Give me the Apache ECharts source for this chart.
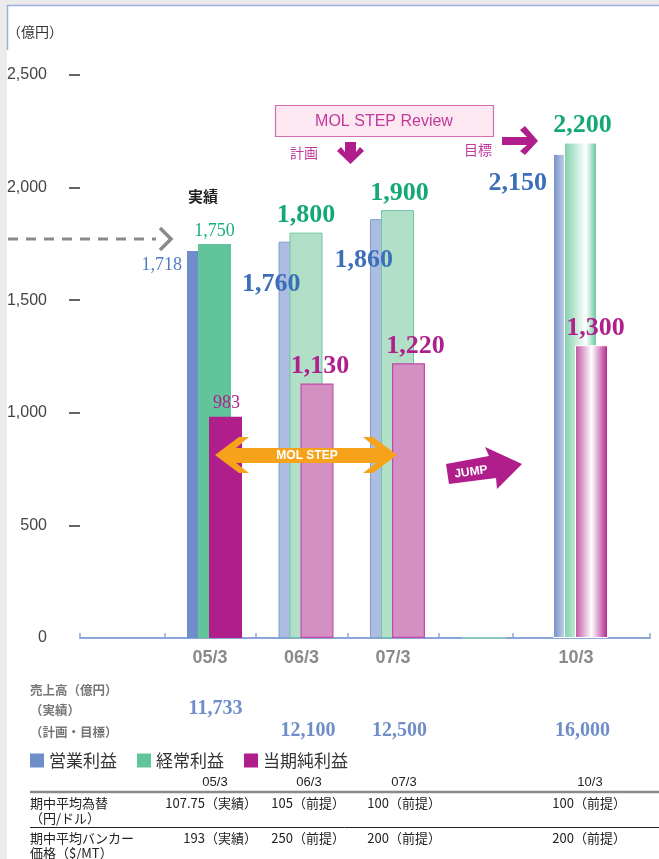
<!DOCTYPE html>
<html><head><meta charset="utf-8">
<script src="https://cdn.jsdelivr.net/npm/echarts@6.0.0/dist/echarts.min.js"></script>
<style>html,body{margin:0;padding:0;background:#fff}#c{width:659px;height:859px}</style>
</head><body><div id="c"></div>
<script>
// ---------- data ----------
const categories = ['05/3', '06/3', '07/3', '', '10/3'];
const periodType = ['actual', 'plan', 'plan', '', 'target'];
const operatingProfit = [1718, 1760, 1860, null, 2150];
const ordinaryProfit = [1750, 1800, 1900, null, 2200];
const netProfit = [983, 1130, 1220, null, 1300];
const salesActual = [11733, null, null, null, null];
const salesPlan = [null, 12100, 12500, null, 16000];
const seriesNames = ['営業利益', '経常利益', '当期純利益'];
const yMax = 2500, yStep = 500;
const tableColumns = ['05/3', '06/3', '07/3', '10/3'];
const fxRate = ['107.75（実績）', '105（前提）', '100（前提）', '100（前提）'];
const bunkerPrice = ['193（実績）', '250（前提）', '200（前提）', '200（前提）'];

// ---------- styles ----------
const SERIF = '"Liberation Serif","DejaVu Serif",serif';
const SANS = '"Liberation Sans","Noto Sans CJK JP",sans-serif';
const JP = '"Noto Sans CJK JP","Liberation Sans",sans-serif';
const MAG = '#b01e8c';
const LG = echarts.graphic.LinearGradient;
const styles = {
  blue: {
    actual: { color: '#6f8dc8' },
    plan: { color: '#adbde2', borderColor: '#7f9dd3', borderWidth: 1 },
    target: { color: new LG(0, 0, 1, 0, [{offset: 0, color: '#6f8dc8'}, {offset: 0.6, color: '#ffffff'}, {offset: 1, color: '#6f8dc8'}]), borderColor: '#fff', borderWidth: 1 },
    labelColor: { actual: '#4f7bc2', plan: '#3b6fb8', target: '#3b6fb8' },
    labelPos: [[-5, 14], [22, 43], [23, 41], null, [-6, 29]]
  },
  green: {
    actual: { color: '#62c49b' },
    plan: { color: '#b2dfc8', borderColor: '#6cc8a0', borderWidth: 1 },
    target: { color: new LG(0, 0, 1, 0, [{offset: 0, color: '#7ccfa9'}, {offset: 0.66, color: '#ffffff'}, {offset: 1, color: '#5ec298'}]), borderColor: '#fff', borderWidth: 1 },
    labelColor: { actual: '#1aae7c', plan: '#14a878', target: '#14a878' },
    labelOffset: [[0, 0], [0, 0], [2, 0], null, [2, 0]]
  },
  mag: {
    actual: { color: MAG },
    plan: { color: '#d490c2', borderColor: '#c24aa8', borderWidth: 1.2 },
    target: { color: new LG(0, 0, 1, 0, [{offset: 0, color: '#c04ea2'}, {offset: 0.5, color: '#ffffff'}, {offset: 1, color: '#b01e8c'}]), borderColor: '#fff', borderWidth: 1 },
    labelColor: { actual: '#b0208c', plan: '#b0208c', target: '#b0208c' },
    labelOffset: [[1, 0], [3, 0], [7, 0], null, [4, 0]]
  }
};
const fmt = v => Number(v).toLocaleString('en-US');
function labelFont(t) {
  return t === 'actual'
    ? { fontFamily: SERIF, fontSize: 18, fontWeight: 'normal' }
    : { fontFamily: SERIF, fontSize: 26, fontWeight: 'bold' };
}
function buildData(values, key) {
  const s = styles[key];
  return values.map((v, i) => {
    if (v == null) return '-';
    const t = periodType[i];
    const lab = Object.assign({ show: true, color: s.labelColor[t], formatter: p => fmt(p.value) }, labelFont(t));
    if (key === 'blue') {
      Object.assign(lab, { position: s.labelPos[i], align: 'right', verticalAlign: 'middle' });
    } else {
      Object.assign(lab, { position: 'top', distance: 4, offset: s.labelOffset[i] });
    }
    return { value: v, itemStyle: s[t], label: lab };
  });
}

const chart = echarts.init(document.getElementById('c'), null, { renderer: 'canvas' });
const option = {
  backgroundColor: '#ffffff',
  animation: false,
  grid: [
    { left: 168.75, right: 32.75, top: 75, bottom: 221 },
    { left: 80, right: 9, top: 75, bottom: 221 }
  ],
  xAxis: [
    { gridIndex: 0, type: 'category', data: categories, axisLine: { show: false }, axisTick: { show: false },
      axisLabel: { margin: 11, fontSize: 18, fontWeight: 'bold', color: '#8a8a8a', fontFamily: SANS, padding: [0, 9, 0, 0] } },
    { gridIndex: 1, type: 'value', min: 0, max: 570, axisLine: { show: true, lineStyle: { color: '#8aa6d8', width: 2 } },
      axisTick: { show: true, inside: true, length: 5, customValues: [0, 85, 176, 268, 359, 433, 570], lineStyle: { color: '#8aa6d8', width: 1.5 } },
      axisLabel: { show: false }, splitLine: { show: false } }
  ],
  yAxis: [
    { gridIndex: 0, type: 'value', min: 0, max: yMax, interval: yStep, show: false },
    { gridIndex: 1, type: 'value', min: 0, max: yMax, interval: yStep, offset: 6,
      axisLine: { show: false },
      axisTick: { show: true, length: 11, customValues: [500, 1000, 1500, 2000, 2500], lineStyle: { color: '#333', width: 1.5 } },
      axisLabel: { margin: 27, fontSize: 16, color: '#444', fontFamily: SANS, formatter: v => fmt(v) },
      splitLine: { show: false } }
  ],
  legend: {
    left: 25, top: 747, itemWidth: 14, itemHeight: 14, itemGap: 20, icon: 'rect',
    textStyle: { fontSize: 17, color: '#333', fontFamily: JP },
    data: seriesNames
  },
  series: [
    { name: seriesNames[0], type: 'bar', xAxisIndex: 0, yAxisIndex: 0, barWidth: 33, barGap: '-66.67%', itemStyle: { color: '#6f8dc8' }, data: buildData(operatingProfit, 'blue') },
    { name: seriesNames[1], type: 'bar', xAxisIndex: 0, yAxisIndex: 0, barWidth: 33, barGap: '-66.67%', itemStyle: { color: '#62c49b' }, data: buildData(ordinaryProfit, 'green') },
    { name: seriesNames[2], type: 'bar', xAxisIndex: 0, yAxisIndex: 0, barWidth: 33, barGap: '-66.67%', itemStyle: { color: MAG }, data: buildData(netProfit, 'mag') }
  ]
};
chart.setOption(option);

// ---------- decorations & texts ----------
const g = [];
const txt = (x, y, text, st, extra) => g.push(Object.assign({ type: 'text', x: x, y: y, z: 50,
  style: Object.assign({ text: text, fontFamily: JP, fontSize: 13, fill: '#222', verticalAlign: 'middle', align: 'left' }, st) }, extra || {}));
const line = (x1, y1, x2, y2, st, z) => g.push({ type: 'line', z: z || 40, shape: { x1, y1, x2, y2 }, style: Object.assign({ stroke: '#888', lineWidth: 1 }, st) });
const poly = (pts, fill, z) => g.push({ type: 'polygon', z: z || 60, shape: { points: pts }, style: { fill: fill } });

g.push({ type: 'rect', z: 1, shape: { x: 0, y: 0, width: 7, height: 859 }, style: { fill: '#ebebeb' } });
g.push({ type: 'rect', z: 1, shape: { x: 0, y: 0, width: 659, height: 5 }, style: { fill: '#ebebeb' } });
line(7, 5.5, 659, 5.5, { stroke: '#9ab0dc', lineWidth: 1.5 });
line(7.5, 5, 7.5, 50, { stroke: '#9ab0dc', lineWidth: 1.5 });
txt(7, 32, '（億円）', { fontSize: 14, fill: '#333' });

// dashed arrow
line(8, 239, 156, 239, { stroke: '#8a8a8a', lineWidth: 3, lineDash: [10, 8] });
g.push({ type: 'polyline', z: 40, shape: { points: [[160, 228], [171, 239], [160, 250]] }, style: { stroke: '#8a8a8a', lineWidth: 3.5, fill: null } });
txt(188, 196, '実績', { fontSize: 15, fontWeight: 'bold', fill: '#222' });

// MOL STEP Review box
g.push({ type: 'rect', z: 40, shape: { x: 275.5, y: 105.5, width: 218, height: 31 }, style: { fill: '#fde7f1', stroke: '#d36db3', lineWidth: 1.2 } });
txt(384, 122, 'MOL STEP Review', { fontSize: 16, fill: '#c03a9d', fontFamily: SANS, align: 'center' });
txt(290, 153, '計画', { fontSize: 14, fill: '#c03a9d' });
txt(464, 150, '目標', { fontSize: 14, fill: '#c03a9d' });
poly([[345, 142], [356, 142], [356, 152], [360, 147], [364, 151], [350.5, 164], [337, 151], [341, 147], [345, 152]], MAG);
poly([[502, 137], [527, 137], [520, 130], [525, 126], [538, 141], [525, 155], [520, 151], [527, 145], [502, 145]], MAG);

// MOL STEP double arrow
poly([[215, 455], [239, 437], [249, 437], [236, 448], [376, 448], [363, 437], [373, 437], [397, 455], [373, 473], [363, 473], [376, 463], [236, 463], [249, 473], [239, 473]], '#f6a31b', 100);
txt(307, 456, 'MOL STEP', { fontSize: 12, fontWeight: 'bold', fill: '#fff', fontFamily: SANS, align: 'center' }, { z: 101 });

// JUMP arrow
poly([[446, 464], [489, 456], [485, 447], [522, 464], [497, 489], [496, 478], [449, 484]], MAG, 100);
g.push({ type: 'text', z: 101, x: 471, y: 472, rotation: 0.14, style: { text: 'JUMP', fontSize: 12, fontWeight: 'bold', fill: '#fff', fontFamily: SANS, align: 'center', verticalAlign: 'middle' } });

// small dash on axis
line(462, 638, 506, 638, { stroke: '#8cc8bc', lineWidth: 2 }, 45);

// sales
txt(30, 690, '売上高（億円）', { fontSize: 12.5, fontWeight: 'bold', fill: '#777' });
txt(30, 710, '（実績）', { fontSize: 12.5, fontWeight: 'bold', fill: '#777' });
txt(30, 732, '（計画・目標）', { fontSize: 12.5, fontWeight: 'bold', fill: '#777' });
categories.forEach((c, i) => {
  const x = chart.convertToPixel({ xAxisIndex: 0 }, i);
  const sty = { fontSize: 20, fontWeight: 'bold', fill: '#6f8dc8', fontFamily: SERIF, align: 'center' };
  if (salesActual[i] != null) txt(x + 1, 709, fmt(salesActual[i]), sty);
  if (salesPlan[i] != null) txt(x + 2, 731, fmt(salesPlan[i]), sty);
});

// table
const colCenter = [215, 309, 404, 590];
const colRight = [257, 345, 441, 626];
tableColumns.forEach((c, i) => txt(colCenter[i], 782, c, { fontSize: 13, fontFamily: SANS, align: 'center', fill: '#222' }));
line(30, 792, 659, 792, { stroke: '#8a8a8a', lineWidth: 2.5 });
line(30, 827.5, 659, 827.5, { stroke: '#222', lineWidth: 1 });
txt(30, 803, '期中平均為替', { fontSize: 13 });
txt(30, 818, '（円/ドル）', { fontSize: 13 });
txt(30, 838, '期中平均バンカー', { fontSize: 13 });
txt(30, 853, '価格（$/MT）', { fontSize: 13 });
fxRate.forEach((t, i) => txt(colRight[i], 803, t, { fontSize: 13, align: 'right' }));
bunkerPrice.forEach((t, i) => txt(colRight[i], 838, t, { fontSize: 13, align: 'right' }));

chart.setOption({ graphic: { elements: g } });
</script>
</body></html>
